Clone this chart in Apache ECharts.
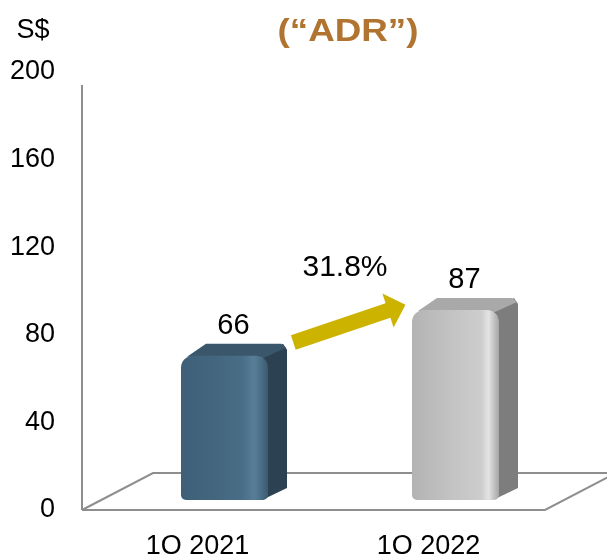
<!DOCTYPE html>
<html>
<head>
<meta charset="utf-8">
<script src="https://cdn.jsdelivr.net/npm/echarts@6/dist/echarts.min.js"></script>
<style>
html,body{margin:0;padding:0;background:#fff;}
#chart{width:607px;height:554px;}
</style>
</head>
<body>
<div id="chart"></div>
<script>
const categories = ['1Q 2021', '1Q 2022'];
const adrValues = [66, 87];
const growthLabel = '31.8%';
const unitLabel = 'S$';
const titleText = '(\u201CADR\u201D)';
const yMin = 0, yMax = 200, yStep = 40;

const frontColors = [
  {front: [[0,'#3e5f77'],[0.7,'#486d86'],[0.84,'#587e97'],[0.92,'#4a6e86'],[1,'#3b5a70']], side: '#2c4253', top: '#3a566b'},
  {front: [[0,'#b3b3b3'],[0.45,'#c3c3c3'],[0.8,'#cdcdcd'],[0.88,'#e4e4e4'],[0.95,'#bfbfbf'],[1,'#a6a6a6']], side: '#7d7d7d', top: '#a9a9a9'}
];

const chart = echarts.init(document.getElementById('chart'), null, {renderer: 'canvas'});

const DX = 19, DY = -12, FRONT_W = 87;

function renderBar(params, api) {
  const idx = params.dataIndex;
  const val = api.value(1);
  const top = api.coord([api.value(0), val]);
  const base = api.coord([api.value(0), 0]);
  const cx = top[0];
  const x0 = cx - FRONT_W / 2, x1 = cx + FRONT_W / 2;
  const yT = top[1], yB = base[1];
  const c = frontColors[idx];
  return {
    type: 'group',
    children: [
      {
        type: 'polygon',
        shape: {points: [[x1 - 6, yT + 2], [x1 + DX - 4, yT + DY], [x1 + DX, yT + DY + 6], [x1 + DX, yB + DY], [x1 - 6, yB]]},
        style: {fill: c.side}
      },
      {
        type: 'polygon',
        shape: {points: [[x0 + 6, yT + 1], [x0 + DX + 6, yT + DY], [x1 + DX - 6, yT + DY], [x1 + DX - 1, yT + DY + 4], [x1 - 4, yT + 2]]},
        style: {fill: c.top}
      },
      {
        type: 'rect',
        shape: {x: x0, y: yT, width: FRONT_W, height: yB - yT, r: [12, 12, 5, 5]},
        style: {fill: new echarts.graphic.LinearGradient(0, 0, 1, 0, c.front.map(s => ({offset: s[0], color: s[1]})))}
      },
      {
        type: 'text',
        style: {
          text: String(val), x: cx + 9, y: yT - 30,
          align: 'center', verticalAlign: 'middle',
          font: '29px "Liberation Sans", Arial, sans-serif', fill: '#000'
        }
      }
    ]
  };
}

const lineStyle = {stroke: '#8e8e8e', lineWidth: 2};

const option = {
  animation: false,
  backgroundColor: '#ffffff',
  grid: [
    {left: 109, right: 36, top: 63, bottom: 54, containLabel: false, outerBoundsMode: 'none'},
    {left: 82, right: 63, top: 72, bottom: 44, containLabel: false, outerBoundsMode: 'none'}
  ],
  xAxis: [
    {type: 'category', data: categories, gridIndex: 0, show: false},
    {type: 'category', data: categories, gridIndex: 1,
      axisLine: {show: false}, axisTick: {show: false},
      axisLabel: {margin: 23, fontSize: 27, color: '#000', fontFamily: '"Liberation Sans", Arial, sans-serif'}}
  ],
  yAxis: [
    {type: 'value', gridIndex: 0, min: yMin, max: yMax, interval: yStep, show: false},
    {type: 'value', gridIndex: 1, min: yMin, max: yMax, interval: yStep,
      axisLine: {show: false}, axisTick: {show: false}, splitLine: {show: false},
      axisLabel: {margin: 27, fontSize: 27, color: '#000', fontFamily: '"Liberation Sans", Arial, sans-serif'}}
  ],
  graphic: [
    {type: 'line', z: 0, shape: {x1: 82, y1: 85, x2: 82, y2: 510}, style: lineStyle},
    {type: 'polyline', z: 0, shape: {points: [[82, 510], [153, 473], [607, 473]]}, style: Object.assign({fill: null}, lineStyle)},
    {type: 'polyline', z: 0, shape: {points: [[82, 510], [545, 510], [616, 473]]}, style: Object.assign({fill: null}, lineStyle)},
    {type: 'text', z: 5, style: {text: unitLabel, x: 33, y: 31, align: 'center', verticalAlign: 'middle', font: '27px "Liberation Sans", Arial, sans-serif', fill: '#000'}},
    {type: 'text', z: 5, x: 348, y: 32, scaleX: 1.15, style: {text: titleText, x: 0, y: 0, align: 'center', verticalAlign: 'middle', font: 'bold 32px "Liberation Sans", Arial, sans-serif', fill: '#b07430'}},
    {type: 'polygon', z: 5, shape: {points: [[290.9, 335.2], [385.6, 303.2], [382.4, 293.4], [405.5, 304.7], [393.6, 327.6], [390.4, 317.8], [295.7, 349.8]]}, style: {fill: '#ccb300'}},
    {type: 'text', z: 5, style: {text: growthLabel, x: 345, y: 268, align: 'center', verticalAlign: 'middle', font: '30px "Liberation Sans", Arial, sans-serif', fill: '#000'}}
  ],
  series: [
    {type: 'custom', xAxisIndex: 0, yAxisIndex: 0, z: 3,
      renderItem: renderBar,
      data: adrValues.map((v, i) => [i, v])},
    {type: 'scatter', xAxisIndex: 1, yAxisIndex: 1, data: [], silent: true}
  ]
};
chart.setOption(option);
</script>
</body>
</html>
